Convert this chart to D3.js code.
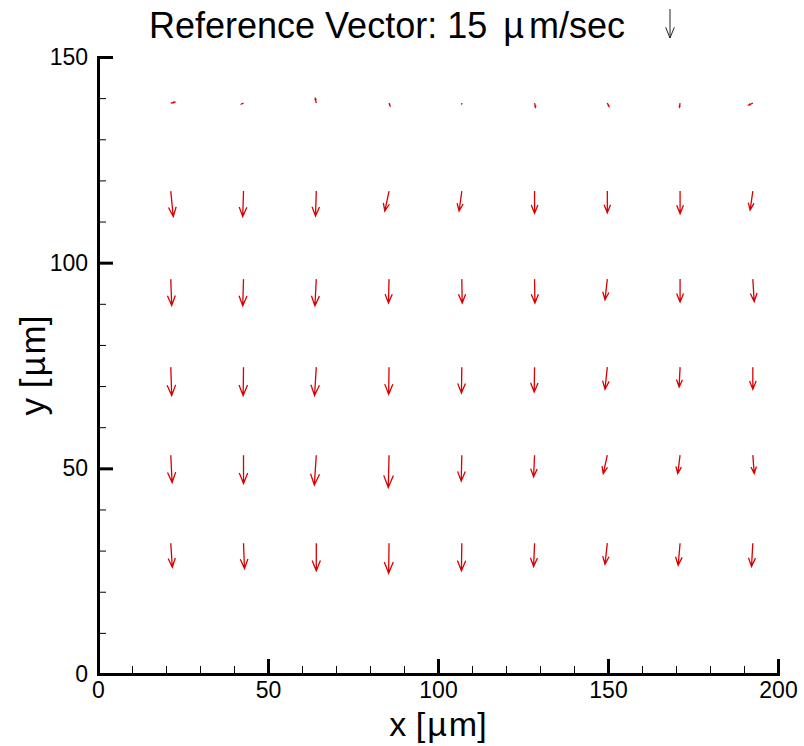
<!DOCTYPE html>
<html>
<head>
<meta charset="utf-8">
<script src="https://cdn.jsdelivr.net/npm/d3@7"></script>
<style>
	body { margin: 0; background: #fff; }
	svg { display: block; font-family: "Liberation Sans", Arial, sans-serif; }
</style>
</head>
<body>
<svg width="804" height="746"></svg>
<script>
// Grid positions of the vector tails [um]
const xCols = [21.4, 42.8, 64.2, 85.6, 107.0, 128.4, 149.8, 171.2, 192.6];
const yRows = [138.8, 117.4, 96.0, 74.6, 53.2, 31.8];

// Velocity components per row [um/sec], top row first
const u1 = [2.1, -1.0, -0.5, 0.5, 0.0, 0.5, 0.8, -0.3, -2.1];
const v1 = [0.5, -0.5, 2.4, -1.4, -0.3, -2.1, -1.7, -2.1, -1.0];
const u2 = [1.3, -0.4, -0.4, -2.2, -1.4, 0.0, 0.0, 0.0, -1.4];
const v2 = [-13.2, -13.2, -12.9, -10.3, -10.3, -11.5, -11.2, -11.7, -9.8];
const u3 = [0.5, -0.4, -0.7, -0.3, 0.2, 0.2, -1.2, 0.0, 0.7];
const v3 = [-13.6, -13.8, -13.8, -12.4, -12.4, -12.4, -10.7, -11.9, -11.6];
const u4 = [0.5, -0.2, -0.9, -0.2, -0.2, -0.2, -1.2, -0.5, 0.0];
const v4 = [-14.7, -14.7, -14.7, -14.0, -13.4, -12.9, -11.4, -10.3, -11.4];
const u5 = [0.7, 0.0, -1.0, -0.4, -0.3, -0.5, -2.1, -1.2, 0.7];
const v5 = [-14.1, -14.6, -15.5, -16.7, -13.4, -11.2, -9.5, -9.5, -9.5];
const u6 = [0.8, 0.5, 0.0, -0.2, -0.2, -0.5, -1.2, -1.0, -0.7];
const v6 = [-12.4, -13.1, -14.3, -15.5, -14.3, -12.1, -10.9, -11.4, -12.1];

const uRows = [u1, u2, u3, u4, u5, u6];
const vRows = [v1, v2, v3, v4, v5, v6];

const refSpeed = 15; // Reference vector [um/sec]

// Tick values
const xMajor = [0, 50, 100, 150, 200];
const yMajor = [0, 50, 100, 150];
const xMinor = d3.range(0, 201, 10);
const yMinor = d3.range(0, 151, 10);

let svg = d3.select('svg');

let xScale = d3.scaleLinear().domain([0, 200]).range([98, 778]);
let yScale = d3.scaleLinear().domain([0, 150]).range([674, 57]);
let lenScale = d3.scaleLinear().domain([0, refSpeed]).range([0, 29]); // Speed to arrow length in px

const red = '#d80000';

// Builds an arrow path from tail (x0, y0) with screen offset (dx, dy)
function arrowPath(x0, y0, dx, dy)
{
	let x1 = x0 + dx, y1 = y0 + dy;
	let len = Math.hypot(dx, dy);
	if (len < 0.01) return 'M' + x0 + ',' + y0 + 'l0.5,0';
	let h = len * 0.4; // Head wing length
	let a = Math.atan2(dy, dx);
	let w = 22 * Math.PI / 180;
	let ax = x1 - h * Math.cos(a - w), ay = y1 - h * Math.sin(a - w);
	let bx = x1 - h * Math.cos(a + w), by = y1 - h * Math.sin(a + w);
	return 'M' + x0 + ',' + y0 + 'L' + x1 + ',' + y1 +
		'M' + ax + ',' + ay + 'L' + x1 + ',' + y1 + 'L' + bx + ',' + by;
}

// Flatten the grid into vectors
let vectors = [];
yRows.forEach((y, r) =>
{
	xCols.forEach((x, c) =>
	{
		vectors.push({ x: x, y: y, u: uRows[r][c], v: vRows[r][c] });
	});
});

// Minor ticks
svg.append('g')
	.attr('transform', 'translate(0,' + yScale(0) + ')')
	.call(d3.axisBottom(xScale).tickValues(xMinor).tickSize(-8).tickFormat(''))
	.call(g => g.select('.domain').remove())
	.selectAll('line').attr('stroke', '#000').attr('stroke-width', 1);
svg.append('g')
	.attr('transform', 'translate(' + xScale(0) + ',0)')
	.call(d3.axisLeft(yScale).tickValues(yMinor).tickSize(-8).tickFormat(''))
	.call(g => g.select('.domain').remove())
	.selectAll('line').attr('stroke', '#000').attr('stroke-width', 1);

// Major axes
let xAxis = svg.append('g')
	.attr('transform', 'translate(0,' + yScale(0) + ')')
	.call(d3.axisBottom(xScale).tickValues(xMajor).tickSize(-15).tickSizeOuter(0).tickPadding(8));
let yAxis = svg.append('g')
	.attr('transform', 'translate(' + xScale(0) + ',0)')
	.call(d3.axisLeft(yScale).tickValues(yMajor).tickSize(-15).tickSizeOuter(0).tickPadding(10));

[xAxis, yAxis].forEach(g =>
{
	g.select('.domain').attr('stroke', '#000').attr('stroke-width', 3).attr('stroke-linecap', 'square');
	g.selectAll('.tick line').attr('stroke', '#000').attr('stroke-width', 3);
	g.selectAll('.tick text').attr('fill', '#000').attr('font-size', 23)
		.attr('font-family', '"Liberation Sans", Arial, sans-serif');
});

// Vectors
svg.append('g')
	.selectAll('path')
	.data(vectors)
	.enter()
	.append('path')
	.attr('d', d => arrowPath(xScale(d.x), yScale(d.y), lenScale(d.u), -lenScale(d.v)))
	.attr('fill', 'none')
	.attr('stroke', red)
	.attr('stroke-width', 1.3)
	.attr('stroke-linejoin', 'miter');

// Title with reference vector
let title = svg.append('text')
	.attr('x', 149)
	.attr('y', 38)
	.attr('font-size', 36)
	.attr('fill', '#000');
title.append('tspan').text('Reference Vector: ' + refSpeed + ' ');
title.append('tspan').attr('dx', 6).text('\u00b5');
title.append('tspan').attr('dx', 5).text('m/sec');

svg.append('path')
	.attr('d', arrowPath(670, 9, 0, lenScale(refSpeed)))
	.attr('fill', 'none')
	.attr('stroke', '#222')
	.attr('stroke-width', 1);

// Axis titles
let xTitle = svg.append('text')
	.attr('x', (xScale(0) + xScale(200)) / 2)
	.attr('y', 736)
	.attr('text-anchor', 'middle')
	.attr('font-size', 34);
xTitle.append('tspan').text('x [');
xTitle.append('tspan').attr('dx', 2).text('\u00b5');
xTitle.append('tspan').attr('dx', 2).text('m]');

let yTitle = svg.append('text')
	.attr('transform', 'translate(45,' + (yScale(0) + yScale(150)) / 2 + ') rotate(-90)')
	.attr('text-anchor', 'middle')
	.attr('font-size', 35);
yTitle.append('tspan').text('y [');
yTitle.append('tspan').attr('dx', 2).text('\u00b5');
yTitle.append('tspan').attr('dx', 2).text('m]');
</script>
</body>
</html>
